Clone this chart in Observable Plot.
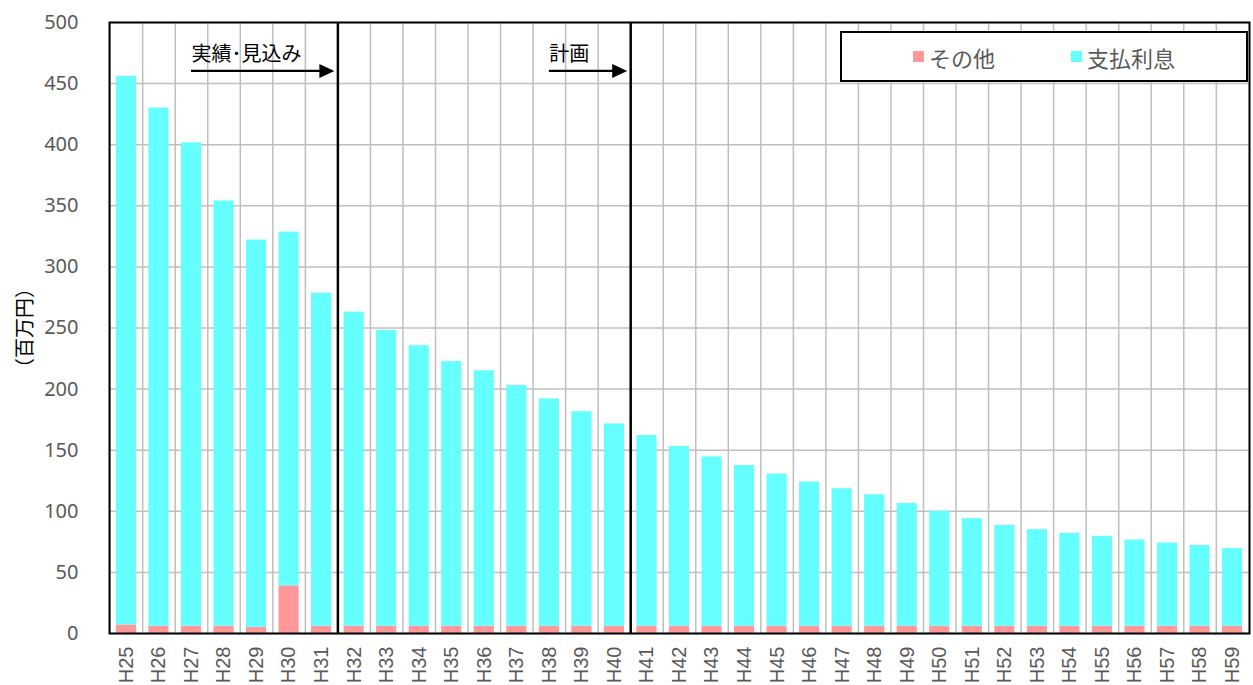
<!DOCTYPE html>
<html><head><meta charset="utf-8">
<script src="https://cdn.jsdelivr.net/npm/d3@7"></script>
<script src="https://cdn.jsdelivr.net/npm/@observablehq/plot@0.6"></script>
<style>
body{margin:0;background:#fff;}
#wrap{position:relative;width:1253px;height:685px;overflow:hidden;}
#legend{position:absolute;left:840px;top:31px;width:408px;height:51px;border:2px solid #000;box-sizing:border-box;background:#fff;font-family:"Noto Sans CJK JP","Noto Sans",sans-serif;font-size:22px;color:#595959;}
.item{position:absolute;top:0;height:47px;display:flex;align-items:center;white-space:nowrap;}
.sw{width:11px;height:11px;margin-right:5px;}
</style></head><body><div id="wrap"></div>
<script>
const categories = ["H25","H26","H27","H28","H29","H30","H31","H32","H33","H34","H35","H36","H37","H38","H39","H40","H41","H42","H43","H44","H45","H46","H47","H48","H49","H50","H51","H52","H53","H54","H55","H56","H57","H58","H59"];
const otherValues = [7,6,6,6,5,39,6,6,6,6,6,6,6,6,6,6,6,6,6,6,6,6,6,6,6,6,6,6,6,6,6,6,6,6,6];
const interestValues = [449,424,395.5,348,317,289.5,272.5,257,242,229.5,216.5,209,197,186,175.5,165.5,156,147,138.5,131.5,124.5,118,112.5,107.5,100.5,94,88,82.5,79,76,73.5,70.5,68,66,63.5];
const seriesNames = ["その他","支払利息"];
const seriesColors = ["#FF9999","#66FFFF"];
const yTicks = [0,50,100,150,200,250,300,350,400,450,500];
const yLabel = "（百万円）";
const separatorsBefore = ["H32","H41"];
const annLabels = ["実績･見込み","計画"];
const annFrom = ["H27","H38"];
const annTo = ["H32","H41"];
const annTextY = [473.5,473.5];
const annArrowY = [460,460];

const rows = [];
categories.forEach((c,i)=>{
  rows.push({cat:c, series:seriesNames[0], value:otherValues[i]});
  rows.push({cat:c, series:seriesNames[1], value:interestValues[i]});
});

const W=1253, H=685, ML=109, MR=4, MT=22, MB=52, PI=0.38, PO=0.21;
const STEP=(W-ML-MR)/(categories.length-PI+2*PO);

function arrows(index, scales){
  const x=scales.x, y=scales.y;
  const step = x(categories[1]) - x(categories[0]);
  const bw = x.bandwidth ? x.bandwidth() : step*(1-PI);
  const g=d3.create("svg:g");
  annFrom.forEach((f,i)=>{
    const x0 = x(f)+bw/2;
    const xe = x(annTo[i]) - (step-bw)/2 - 3;
    const yy = y(annArrowY[i]);
    g.append("line").attr("x1",x0).attr("x2",xe-12).attr("y1",yy).attr("y2",yy)
      .attr("stroke","black").attr("stroke-width",2.2);
    g.append("path").attr("d",`M${xe},${yy}L${xe-15},${yy-7}L${xe-15},${yy+7}Z`).attr("fill","black");
  });
  return g.node();
}

const chart = Plot.plot({
  width:W, height:H, marginLeft:ML, marginRight:MR, marginTop:MT, marginBottom:MB,
  style:{fontFamily:"'Noto Sans','Noto Sans CJK JP',sans-serif", background:"#fff", color:"#595959"},
  x:{domain:categories, type:"band", paddingInner:PI, paddingOuter:PO, round:false, label:null},
  y:{domain:[0,500], label:null},
  color:{domain:seriesNames, range:seriesColors},
  marks:[
    Plot.ruleY(yTicks, {stroke:"#BFBFBF", strokeWidth:1.5}),
    Plot.ruleX(categories, {x:d=>d, dx:-STEP/2, stroke:"#BFBFBF", strokeWidth:1.5}),
    Plot.barY(rows, {x:"cat", y:"value", fill:"series", order:seriesNames}),
    Plot.ruleX(separatorsBefore, {x:d=>d, dx:-STEP/2, stroke:"black", strokeWidth:2.5}),
    Plot.frame({stroke:"black", strokeWidth:2}),
    Plot.axisY({ticks:yTicks, tickSize:0, tickPadding:31, fontSize:20, fill:"#595959", label:null}),
    Plot.axisX({tickSize:0, tickRotate:-90, tickPadding:13, fontSize:20, fontFamily:"'Liberation Sans',Arial,sans-serif", fill:"#595959", label:null}),
    Plot.text([yLabel], {text:d=>d, frameAnchor:"left", textAnchor:"middle", rotate:-90, dx:-84, fontSize:20, fill:"black", fontFamily:"'Noto Sans CJK JP',sans-serif"}),
    Plot.text(annLabels, {text:d=>d, x:(d,i)=>annFrom[i], y:(d,i)=>annTextY[i], textAnchor:"start", lineAnchor:"middle", fontSize:20, fill:"black", fontFamily:"'Noto Sans CJK JP',sans-serif"}),
    arrows
  ]
});
const wrap=document.getElementById("wrap");
wrap.appendChild(chart);

const legend=document.createElement("div");
legend.id="legend";
const itemLefts=[71,229];
seriesNames.forEach((s,i)=>{
  const it=document.createElement("div");
  it.className="item";
  it.style.left=itemLefts[i]+"px";
  const sw=document.createElement("span");
  sw.className="sw"; sw.style.background=seriesColors[i];
  const t=document.createElement("span"); t.textContent=s;
  it.appendChild(sw); it.appendChild(t);
  legend.appendChild(it);
});
wrap.appendChild(legend);
</script>
</body></html>
